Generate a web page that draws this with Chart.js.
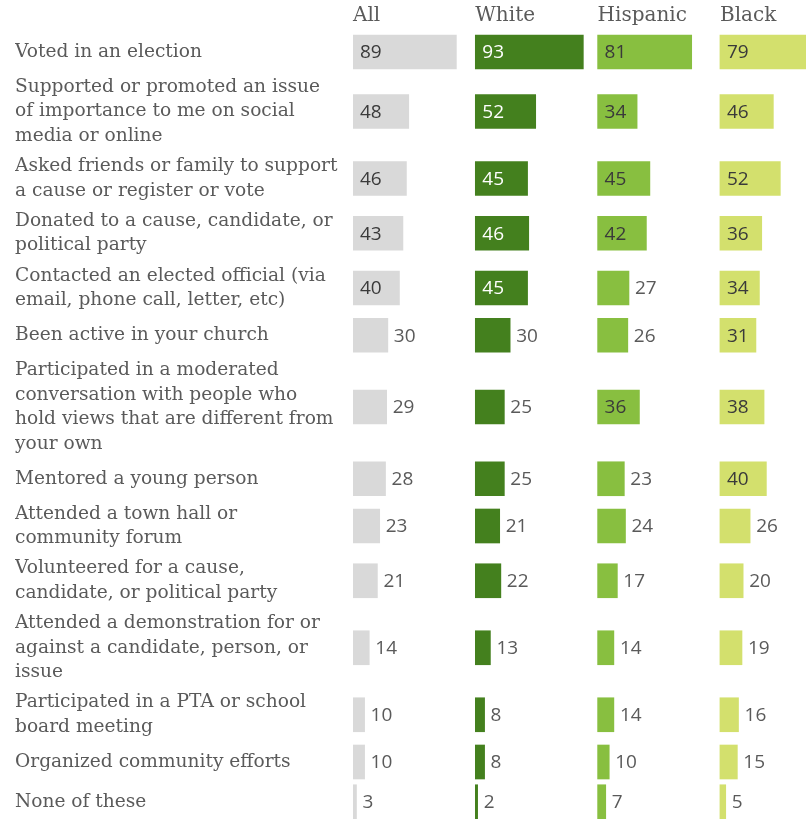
<!DOCTYPE html>
<html>
<head>
<meta charset="utf-8">
<script src="https://cdn.jsdelivr.net/npm/chart.js@4"></script>
<style>
    html, body { margin: 0; padding: 0; background: #fff; overflow: hidden; }
    #wrap { width: 806px; height: 819px; }
</style>
</head>
<body>
<div id="wrap"><canvas id="civicChart" width="806" height="819"></canvas></div>
<script>
// Activity labels, already broken into the lines they are shown on
const activities = [
    ['Voted in an election'],
    ['Supported or promoted an issue', 'of importance to me on social', 'media or online'],
    ['Asked friends or family to support', 'a cause or register or vote'],
    ['Donated to a cause, candidate, or', 'political party'],
    ['Contacted an elected official (via', 'email, phone call, letter, etc)'],
    ['Been active in your church'],
    ['Participated in a moderated', 'conversation with people who', 'hold views that are different from', 'your own'],
    ['Mentored a young person'],
    ['Attended a town hall or', 'community forum'],
    ['Volunteered for a cause,', 'candidate, or political party'],
    ['Attended a demonstration for or', 'against a candidate, person, or', 'issue'],
    ['Participated in a PTA or school', 'board meeting'],
    ['Organized community efforts'],
    ['None of these']
];

const groups = ['All', 'White', 'Hispanic', 'Black'];

const allValues      = [89, 48, 46, 43, 40, 30, 29, 28, 23, 21, 14, 10, 10, 3];
const whiteValues    = [93, 52, 45, 46, 45, 30, 25, 25, 21, 22, 13, 8, 8, 2];
const hispanicValues = [81, 34, 45, 42, 27, 26, 36, 23, 24, 17, 14, 14, 10, 7];
const blackValues    = [79, 46, 52, 36, 34, 31, 38, 40, 26, 20, 19, 16, 15, 5];

const seriesValues = [allValues, whiteValues, hispanicValues, blackValues];
const barColors = ['#d9d9d9', '#44801e', '#88bf40', '#d3e06d'];
const insideText = ['#3a3a3a', '#ffffff', '#3a3a3a', '#3a3a3a'];

const LABEL_FONT = 'DejaVu Serif';
const NUM_FONT = 'Open Sans';
const LINE_H = 24.5;
const BAR_H = 34;
const ROW_GAP = 5.75;
const FIRST_TOP = 35;
const CHART_H = 819;

// each panel is PANEL units wide, the plot area spans SPAN units
const PANEL = 105.3;
const SPAN = 390;

// Row centres follow from how many lines each label needs
const rowCenters = [];
let rowTop = FIRST_TOP;
activities.forEach(lines => {
    const h = Math.max(lines.length * LINE_H, BAR_H);
    rowCenters.push(rowTop + h / 2);
    rowTop += h + ROW_GAP;
});

const datasets = seriesValues.map((vals, g) => ({
    label: groups[g],
    data: vals.map((v, i) => ({ x: v, y: rowCenters[i] })),
    xAxisID: 'x' + g,
    backgroundColor: barColors[g],
    borderWidth: 0,
    barThickness: BAR_H,
    grouped: false
}));

const xScales = {};
groups.forEach((g, i) => {
    xScales['x' + i] = {
        type: 'linear',
        display: false,
        min: -i * PANEL,
        max: SPAN - i * PANEL
    };
});

// Numbers next to or inside each bar, plus the group headers
const barLabels = {
    id: 'barLabels',
    afterDatasetsDraw(chart) {
        const ctx = chart.ctx;
        ctx.save();
        ctx.textBaseline = 'middle';
        ctx.textAlign = 'left';
        chart.data.datasets.forEach((ds, g) => {
            const meta = chart.getDatasetMeta(g);
            const xs = chart.scales['x' + g];
            ctx.font = '20px "' + LABEL_FONT + '"';
            ctx.fillStyle = '#5a5a5a';
            ctx.fillText(groups[g], xs.getPixelForValue(0), 16);

            ctx.font = '19px "' + NUM_FONT + '"';
            meta.data.forEach((bar, i) => {
                const v = seriesValues[g][i];
                if (v > 30) {
                    ctx.fillStyle = insideText[g];
                    ctx.fillText(String(v), bar.base + 7, bar.y + 1);
                } else {
                    ctx.fillStyle = '#5a5a5a';
                    ctx.fillText(String(v), bar.x + 6, bar.y + 1);
                }
            });
        });
        ctx.restore();
    }
};

new Chart(document.getElementById('civicChart'), {
    type: 'bar',
    data: { datasets },
    options: {
        indexAxis: 'y',
        responsive: false,
        animation: false,
        events: [],
        layout: { padding: { left: 15, right: 0, top: 0, bottom: 0 } },
        scales: {
            ...xScales,
            y: {
                type: 'linear',
                reverse: true,
                offset: false,
                min: 0,
                max: CHART_H,
                grid: { display: false },
                border: { display: false },
                afterBuildTicks: scale => {
                    scale.ticks = rowCenters.map(v => ({ value: v }));
                },
                afterFit: scale => {
                    scale.width = 338;
                    scale.paddingTop = 0;
                    scale.paddingBottom = 0;
                },
                ticks: {
                    autoSkip: false,
                    crossAlign: 'far',
                    padding: 0,
                    color: '#5a5a5a',
                    font: { family: LABEL_FONT, size: 18.6, lineHeight: LINE_H + 'px' },
                    callback: (value, index) => activities[index]
                }
            }
        },
        plugins: {
            legend: { display: false },
            tooltip: { enabled: false }
        }
    },
    plugins: [barLabels]
});
</script>
</body>
</html>
